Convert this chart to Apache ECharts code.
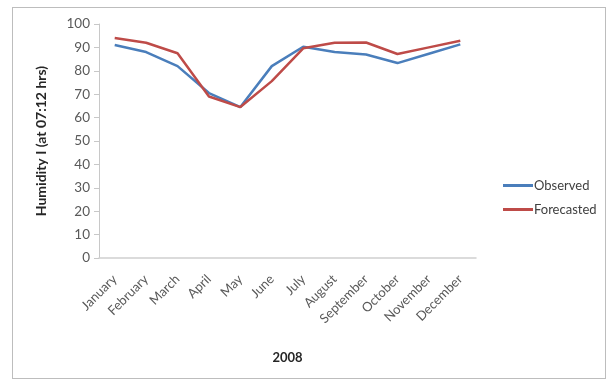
<!DOCTYPE html>
<html>
<head>
<meta charset="utf-8">
<script src="https://cdn.jsdelivr.net/npm/echarts@6/dist/echarts.min.js"></script>
<style>
  html, body { margin: 0; padding: 0; background: #ffffff; }
  #frame { position: absolute; left: 12px; top: 7px; width: 594px; height: 372px; border: 1px solid #bdbdbd; box-sizing: border-box; }
  #chart { position: absolute; left: 0; top: 0; width: 615px; height: 383px; }
</style>
</head>
<body>
<div id="frame"></div>
<div id="chart"></div>
<script>
// Monthly humidity for 2008, observed vs. forecasted
const months = ['January', 'February', 'March', 'April', 'May', 'June', 'July',
  'August', 'September', 'October', 'November', 'December'];
const observed = [91, 88, 82, 70.5, 64.5, 82, 90.3, 88, 87, 83.3, 87.3, 91.3];
const forecasted = [94, 92, 87.5, 69, 64.5, 75.6, 89.6, 92, 92.1, 87.2, 90, 92.8];
const yTicks = { min: 0, max: 100, interval: 10 };

const font = 'Lato, "Open Sans", sans-serif';
const chart = echarts.init(document.getElementById('chart'), null, { renderer: 'canvas' });
chart.setOption({
  animation: false,
  backgroundColor: 'transparent',
  grid: { left: 99, right: 139, top: 24, bottom: 125 },
  legend: {
    orient: 'vertical',
    left: 498, top: 174,
    itemWidth: 30, itemHeight: 3, itemGap: 11,
    icon: 'rect',
    textStyle: { fontFamily: font, fontSize: 13, color: '#404040', padding: [0, 0, 0, -4] },
    data: ['Observed', 'Forecasted']
  },
  xAxis: {
    type: 'category',
    data: months,
    name: '2008',
    nameLocation: 'middle',
    nameGap: 93,
    nameTextStyle: { fontFamily: font, fontSize: 13, fontWeight: 'bold', color: '#262626' },
    axisLine: { lineStyle: { color: '#d0d0d0', width: 1.5 } },
    axisTick: { show: false },
    axisLabel: { rotate: 45, interval: 0, fontFamily: font, fontSize: 13, color: '#595959', margin: 19 }
  },
  yAxis: {
    type: 'value',
    min: yTicks.min, max: yTicks.max, interval: yTicks.interval,
    name: 'Humidity I (at 07:12 hrs)',
    nameLocation: 'middle',
    nameGap: 51,
    nameTextStyle: { fontFamily: font, fontSize: 14, fontWeight: 'bold', color: '#262626' },
    axisLine: { show: true, lineStyle: { color: '#c8c8c8', width: 1 } },
    axisTick: { show: true, length: 5, lineStyle: { color: '#c8c8c8' } },
    splitLine: { show: false },
    axisLabel: { fontFamily: font, fontSize: 13.5, color: '#595959', margin: 9 }
  },
  series: [
    {
      name: 'Observed', type: 'line', data: observed,
      symbol: 'none', color: '#4a7ebb',
      lineStyle: { width: 2.5, color: '#4a7ebb' }
    },
    {
      name: 'Forecasted', type: 'line', data: forecasted,
      symbol: 'none', color: '#be4b48',
      lineStyle: { width: 2.5, color: '#be4b48' }
    }
  ]
});
</script>
</body>
</html>
